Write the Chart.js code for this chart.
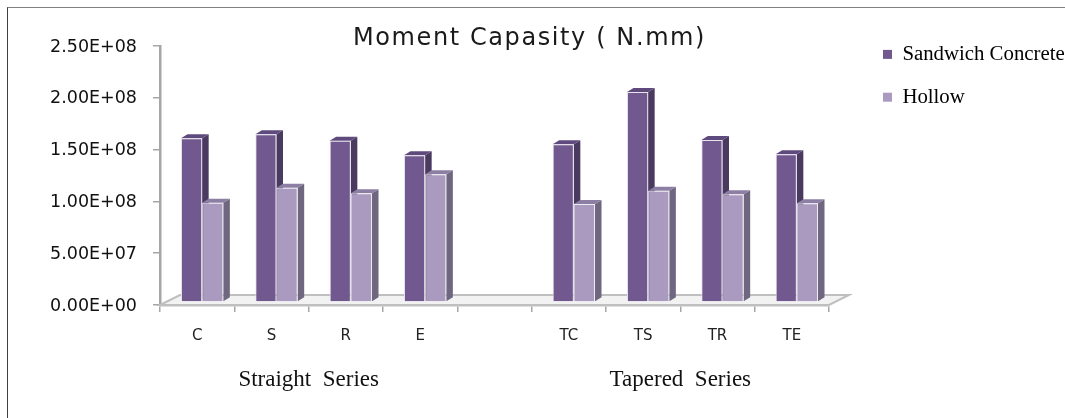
<!DOCTYPE html>
<html lang="en">
<head>
  <meta charset="UTF-8" />
  <title>Moment Capasity</title>
  <script src="https://cdn.jsdelivr.net/npm/chart.js"></script>
  <style>
    html, body { margin: 0; padding: 0; background: #fff; }
    #wrap { position: relative; width: 1065px; height: 418px; overflow: hidden; }
    #frame { position: absolute; left: 7px; top: 7px; right: -5px; bottom: -5px; border-top: 1px solid #808080; border-left: 1px solid #404040; }
    canvas { position: absolute; left: 0; top: 0; }
  </style>
</head>
<body>
  <div id="wrap">
    <canvas id="grafico" width="1065" height="418"></canvas>
    <div id="frame"></div>
  </div>

  <script>
    const categories = ['C', 'S', 'R', 'E', '', 'TC', 'TS', 'TR', 'TE'];
    const sandwich = [1.58e8, 1.62e8, 1.557e8, 1.416e8, null, 1.522e8, 2.027e8, 1.564e8, 1.426e8];
    const hollow = [9.58e7, 1.103e8, 1.049e8, 1.233e8, null, 9.46e7, 1.074e8, 1.04e8, 9.53e7];
    const yTickLabels = ['0.00E+00', '5.00E+07', '1.00E+08', '1.50E+08', '2.00E+08', '2.50E+08'];
    const groupLabels = ['Straight  Series', 'Tapered  Series'];
    const groupCentres = [2, 7];

    const axisGrey = '#a6a6a6';
    const sideColors = ['#4a3a5f', '#6f667f'];
    const topColors = ['#5f4a7d', '#8c7fa3'];
    const depthX = 6.5, depthY = 4;

    // fake 3D: floor, then side and top faces of each bar, bars are drawn shifted onto the floor
    const pseudo3d = {
      id: 'pseudo3d',
      beforeDatasetsDraw(chart) {
        const { ctx, chartArea: a } = chart;
        ctx.save();
        ctx.beginPath();
        ctx.moveTo(a.left, a.bottom);
        ctx.lineTo(a.left + 20, a.bottom - 10);
        ctx.lineTo(a.right + 20, a.bottom - 10);
        ctx.lineTo(a.right, a.bottom);
        ctx.closePath();
        ctx.fillStyle = '#f2f2f2';
        ctx.fill();
        ctx.strokeStyle = '#bfbfbf';
        ctx.lineWidth = 2;
        ctx.stroke();
        ctx.restore();

        ctx.save();
        ctx.translate(5, -3);
        chart.data.datasets.forEach((ds, i) => {
          chart.getDatasetMeta(i).data.forEach((bar, j) => {
            if (ds.data[j] === null) return;
            const l = bar.x - bar.width / 2, r = bar.x + bar.width / 2;
            ctx.fillStyle = sideColors[i];
            ctx.beginPath();
            ctx.moveTo(r, bar.y);
            ctx.lineTo(r + depthX, bar.y - depthY);
            ctx.lineTo(r + depthX, bar.base - depthY);
            ctx.lineTo(r, bar.base);
            ctx.closePath();
            ctx.fill();
            ctx.fillStyle = topColors[i];
            ctx.beginPath();
            ctx.moveTo(l, bar.y);
            ctx.lineTo(l + depthX, bar.y - depthY);
            ctx.lineTo(r + depthX, bar.y - depthY);
            ctx.lineTo(r, bar.y);
            ctx.closePath();
            ctx.fill();
          });
        });
      },
      afterDatasetsDraw(chart) {
        chart.ctx.restore();
      }
    };

    // title sits over the plot top and the legend is out to the right
    const placement = {
      id: 'placement',
      afterLayout(chart) {
        const title = chart.titleBlock, legend = chart.legend;
        title.top = 25;
        title.left = -3;
        title.right = chart.width - 3;
        const drawTitle = title.draw;
        title.draw = function () {
          chart.ctx.save();
          chart.ctx.letterSpacing = '1.6px';
          drawTitle.call(title);
          chart.ctx.restore();
        };
        legend.left = 861;
        legend.right = chart.width;
        legend.top = 22;
        legend.bottom = 300;
      }
    };

    new Chart(document.getElementById('grafico').getContext('2d'), {
      type: 'bar',
      data: {
        labels: categories,
        datasets: [
          { label: 'Sandwich Concrete', data: sandwich, backgroundColor: '#71588f', borderColor: '#e8e4ee', borderWidth: 1, barPercentage: 1, categoryPercentage: 0.57 },
          { label: 'Hollow', data: hollow, backgroundColor: '#aa9abf', borderColor: '#eeebf3', borderWidth: 1, barPercentage: 1, categoryPercentage: 0.57 }
        ]
      },
      plugins: [pseudo3d, placement],
      options: {
        responsive: false,
        animation: false,
        events: [],
        layout: { padding: { left: 0, right: 236, top: 0, bottom: 0 } },
        plugins: {
          tooltip: { enabled: false },
          title: {
            display: true,
            text: 'Moment Capasity ( N.mm)',
            color: '#1a1a1a',
            font: { family: 'DejaVu Sans', size: 24, weight: 'normal', lineHeight: '28px' },
            padding: { top: 0, bottom: 18 }
          },
          legend: {
            position: 'chartArea',
            align: 'start',
            labels: {
              color: '#1a1a1a',
              boxWidth: 9,
              boxHeight: 9,
              padding: 22,
              font: { family: 'Liberation Serif', size: 20.8 },
              generateLabels(chart) {
                return chart.data.datasets.map((ds, i) => ({
                  text: ds.label, fillStyle: ds.backgroundColor, strokeStyle: ds.backgroundColor, lineWidth: 0, datasetIndex: i
                }));
              }
            }
          }
        },
        scales: {
          x: {
            offset: true,
            afterFit(axis) { axis.height = 45; },
            border: { color: '#bfbfbf', width: 2.5 },
            grid: { drawOnChartArea: false, color: axisGrey, tickLength: 7, lineWidth: 1.5 },
            ticks: { color: '#222', padding: 15, maxRotation: 0, font: { family: 'DejaVu Sans', size: 15 } }
          },
          x2: {
            type: 'linear',
            position: 'bottom',
            offset: false,
            min: 0,
            max: 9,
            afterFit(axis) { axis.height = 68; },
            afterBuildTicks(axis) { axis.ticks = groupCentres.map(v => ({ value: v })); },
            border: { display: false },
            grid: { display: false },
            ticks: {
              color: '#111',
              padding: 8,
              autoSkip: false,
              maxRotation: 0,
              font: { family: 'Liberation Serif', size: 23 },
              callback: (v) => groupLabels[groupCentres.indexOf(v)]
            }
          },
          y: {
            min: 0,
            max: 2.5e8,
            afterFit(axis) { axis.width = 160; },
            border: { color: axisGrey, width: 2.5 },
            grid: { drawOnChartArea: false, color: axisGrey, tickLength: 7, lineWidth: 1.5 },
            ticks: {
              stepSize: 5e7,
              color: '#111',
              padding: 16,
              labelOffset: 1,
              font: { family: 'DejaVu Sans', size: 17.5 },
              callback: (v, i) => yTickLabels[i]
            }
          }
        }
      }
    });
  </script>
</body>
</html>
